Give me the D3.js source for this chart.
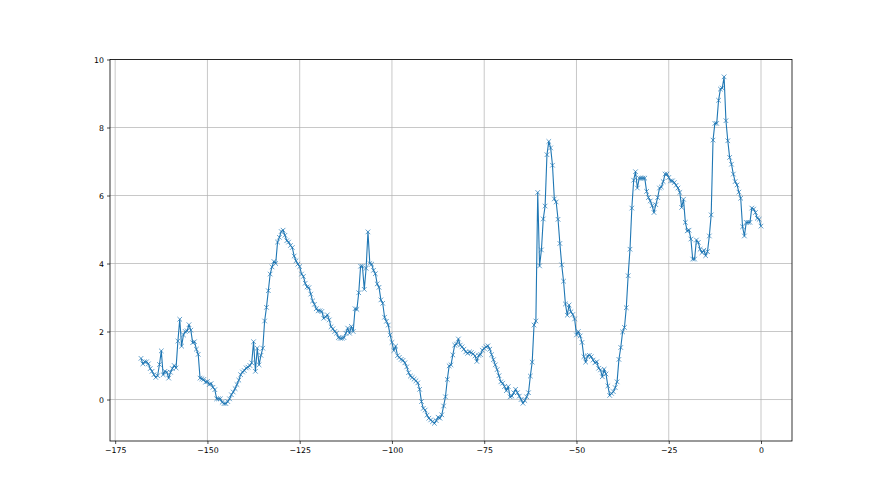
<!DOCTYPE html>
<html>
<head>
<meta charset="utf-8">
<script src="https://cdnjs.cloudflare.com/ajax/libs/d3/7.8.5/d3.min.js"></script>
<style>
  html, body { margin: 0; padding: 0; background: #fff; }
  svg { display: block; font-family: 'DejaVu Sans', sans-serif; }
</style>
</head>
<body>
<svg id="chart" width="880" height="495"></svg>
<script>
  // x runs from -168 to 0 in half steps
  const xStart = -168;
  const xStep = 0.5;

  const values = [
    1.21, 1.05, 1.11, 1.11, 1.05, 0.91, 0.83, 0.73, 0.65, 0.70,
    1.03, 1.43, 0.73, 0.83, 0.80, 0.63, 0.80, 0.91, 1.00, 0.93,
    1.72, 2.36, 1.57, 1.90, 2.00, 2.02, 2.20, 2.04, 1.67, 1.70,
    1.48, 1.33, 0.63, 0.61, 0.59, 0.51, 0.53, 0.44, 0.47, 0.36,
    0.29, 0.02, 0.02, 0.02, -0.08, -0.12, -0.12, -0.06, 0.02, 0.14,
    0.22, 0.32, 0.44, 0.57, 0.73, 0.81, 0.85, 0.93, 0.95, 1.00,
    1.08, 1.70, 0.83, 1.51, 1.02, 1.30, 1.51, 2.31, 2.71, 3.20,
    3.69, 3.90, 4.06, 4.00, 4.63, 4.77, 4.94, 4.98, 4.83, 4.67,
    4.63, 4.53, 4.47, 4.22, 4.08, 3.98, 3.91, 3.69, 3.62, 3.42,
    3.31, 3.29, 3.10, 2.90, 2.80, 2.67, 2.61, 2.61, 2.59, 2.39,
    2.43, 2.49, 2.34, 2.14, 2.08, 2.00, 1.95, 1.82, 1.80, 1.80,
    1.82, 1.95, 2.10, 1.95, 2.15, 2.00, 2.67, 2.65, 3.14, 3.92,
    3.92, 3.24, 3.86, 4.93, 4.00, 3.98, 3.80, 3.70, 3.40, 3.30,
    2.93, 2.83, 2.42, 2.30, 2.19, 1.90, 1.68, 1.44, 1.57, 1.29,
    1.24, 1.18, 1.15, 1.08, 0.96, 0.79, 0.69, 0.65, 0.60, 0.55,
    0.49, 0.30, -0.06, -0.26, -0.31, -0.46, -0.55, -0.60, -0.65, -0.70,
    -0.62, -0.52, -0.55, -0.45, -0.19, 0.08, 0.59, 0.99, 1.02, 1.31,
    1.60, 1.63, 1.78, 1.60, 1.55, 1.48, 1.40, 1.36, 1.40, 1.38,
    1.34, 1.28, 1.12, 1.30, 1.32, 1.45, 1.50, 1.55, 1.58, 1.48,
    1.32, 1.17, 1.02, 0.88, 0.70, 0.52, 0.48, 0.38, 0.26, 0.38,
    0.08, 0.10, 0.20, 0.30, 0.20, 0.10, 0.00, -0.11, -0.03, 0.08,
    0.20, 0.69, 1.10, 2.19, 2.31, 6.09, 3.93, 4.40, 5.31, 5.69,
    7.20, 7.59, 7.40, 6.89, 5.90, 5.81, 5.30, 4.59, 3.96, 3.48,
    2.81, 2.48, 2.78, 2.58, 2.50, 2.37, 1.90, 2.00, 1.87, 1.68,
    1.26, 1.10, 1.28, 1.30, 1.26, 1.16, 1.08, 1.11, 0.92, 0.87,
    0.67, 0.89, 0.75, 0.40, 0.12, 0.18, 0.23, 0.35, 0.52, 1.18,
    1.53, 1.99, 2.12, 2.70, 3.64, 4.42, 5.63, 6.45, 6.70, 6.22,
    6.51, 6.51, 6.51, 6.51, 6.12, 5.94, 5.84, 5.70, 5.50, 5.73,
    5.94, 6.22, 6.25, 6.41, 6.63, 6.63, 6.53, 6.43, 6.43, 6.38,
    6.30, 6.22, 6.09, 5.65, 5.89, 5.21, 4.96, 4.98, 4.72, 4.13,
    4.13, 4.69, 4.62, 4.42, 4.32, 4.39, 4.23, 4.35, 4.81, 5.43,
    7.63, 8.12, 8.12, 8.80, 9.13, 9.16, 9.49, 8.20, 7.61, 7.12,
    6.92, 6.63, 6.41, 6.31, 6.10, 5.92, 5.08, 4.81, 5.21, 5.21,
    5.21, 5.63, 5.60, 5.50, 5.33, 5.30, 5.10
  ];

  const xTicks = [-175, -150, -125, -100, -75, -50, -25, 0];
  const yTicks = [0, 2, 4, 6, 8, 10];

  const points = values.map((v, i) => ({ x: xStart + i * xStep, y: v }));

  const plotLeft = 110, plotRight = 792, plotTop = 59.5, plotBottom = 441;
  const blue = '#1f77b4';

  const svg = d3.select('#chart');

  const x = d3.scaleLinear().domain([-176.4, 8.4]).range([plotLeft, plotRight]);
  const y = d3.scaleLinear().domain([-1.22, 10]).range([plotBottom, plotTop]);

  const fmt = d => (d < 0 ? '\u2212' + Math.abs(d) : String(d));

  // grid
  svg.append('g')
     .selectAll('line')
     .data(xTicks)
     .enter().append('line')
     .attr('x1', d => x(d)).attr('x2', d => x(d))
     .attr('y1', plotTop).attr('y2', plotBottom)
     .attr('stroke', '#b0b0b0')
     .attr('stroke-width', 0.7);

  svg.append('g')
     .selectAll('line')
     .data(yTicks)
     .enter().append('line')
     .attr('x1', plotLeft).attr('x2', plotRight)
     .attr('y1', d => y(d)).attr('y2', d => y(d))
     .attr('stroke', '#b0b0b0')
     .attr('stroke-width', 0.7);

  // axes
  const xAxis = svg.append('g')
                   .attr('transform', `translate(0,${plotBottom})`)
                   .call(d3.axisBottom(x).tickValues(xTicks).tickFormat(fmt).tickSizeInner(3).tickSizeOuter(0).tickPadding(3));
  const yAxis = svg.append('g')
                   .attr('transform', `translate(${plotLeft},0)`)
                   .call(d3.axisLeft(y).tickValues(yTicks).tickFormat(fmt).tickSizeInner(3).tickSizeOuter(0).tickPadding(3));

  [xAxis, yAxis].forEach(a => {
    a.select('.domain').remove();
    a.selectAll('text')
     .attr('font-family', "'DejaVu Sans', sans-serif")
     .attr('font-size', '7.8px')
     .attr('fill', '#000');
    a.selectAll('line').attr('stroke', '#000').attr('stroke-width', 0.7);
  });

  // line and markers
  const line = d3.line()
                 .x(d => x(d.x))
                 .y(d => y(d.y));

  svg.append('path')
     .attr('d', line(points))
     .attr('fill', 'none')
     .attr('stroke', blue)
     .attr('stroke-width', 1.1)
     .attr('stroke-linejoin', 'round');

  const s = 2.3;
  svg.append('g')
     .selectAll('path')
     .data(points)
     .enter().append('path')
     .attr('d', `M${-s},${-s}L${s},${s}M${-s},${s}L${s},${-s}`)
     .attr('transform', d => `translate(${x(d.x)},${y(d.y)})`)
     .attr('stroke', blue)
     .attr('stroke-width', 0.7)
     .attr('fill', 'none');

  // frame
  svg.append('rect')
     .attr('x', plotLeft).attr('y', plotTop)
     .attr('width', plotRight - plotLeft).attr('height', plotBottom - plotTop)
     .attr('fill', 'none')
     .attr('stroke', '#000')
     .attr('stroke-width', 0.8);
</script>
</body>
</html>
